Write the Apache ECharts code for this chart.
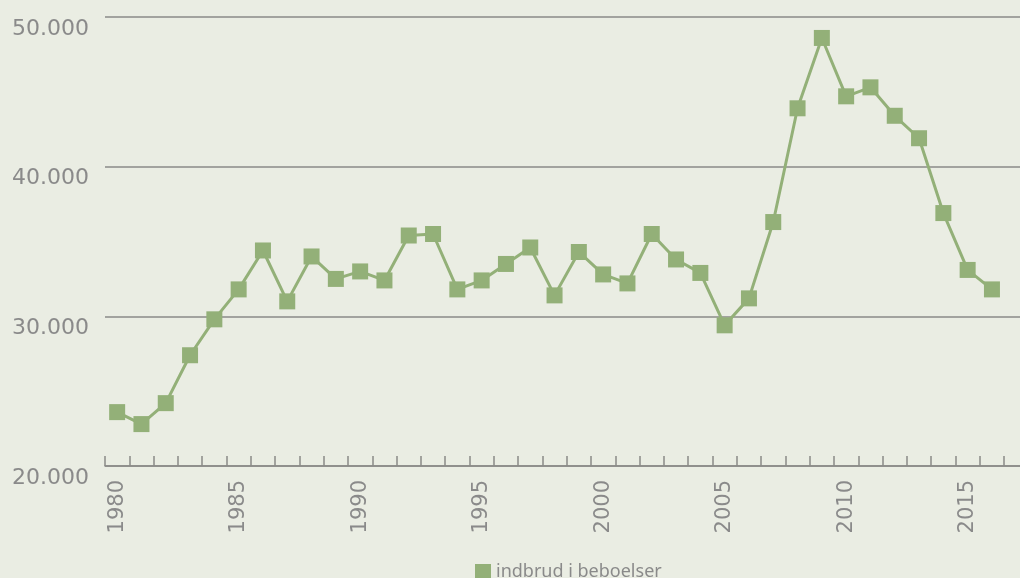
<!DOCTYPE html>
<html>
<head>
<meta charset="utf-8">
<script src="https://cdn.jsdelivr.net/npm/echarts@6/dist/echarts.min.js"></script>
<style>
  html, body { margin: 0; padding: 0; background: #eaede3; }
  #chart { width: 1020px; height: 578px; }
</style>
</head>
<body>
<div id="chart"></div>
<script>
// data
const years = [1980, 1981, 1982, 1983, 1984, 1985, 1986, 1987, 1988, 1989,
  1990, 1991, 1992, 1993, 1994, 1995, 1996, 1997, 1998, 1999,
  2000, 2001, 2002, 2003, 2004, 2005, 2006, 2007, 2008, 2009,
  2010, 2011, 2012, 2013, 2014, 2015, 2016];
const burglaries = [23600, 22800, 24200, 27400, 29800, 31800, 34400, 31000, 34000, 32500,
  33000, 32400, 35400, 35500, 31800, 32400, 33500, 34600, 31400, 34300,
  32800, 32200, 35500, 33800, 32900, 29400, 31200, 36300, 43900, 48600,
  44700, 45300, 43400, 41900, 36900, 33100, 31800];
const yTicks = [20000, 30000, 40000, 50000];
const seriesName = "indbrud i beboelser";

const green = "#93b078";
const grey = "#8a8a88";

const chart = echarts.init(document.getElementById("chart"));

const option = {
  backgroundColor: "#eaede3",
  animation: false,
  grid: { left: 105, right: 0, top: 17, bottom: 112 },
  legend: {
    data: [seriesName],
    left: 470,
    top: 558,
    icon: "rect",
    itemWidth: 16,
    itemHeight: 16,
    itemGap: 5,
    textStyle: { fontFamily: "Noto Sans", fontSize: 18, color: "#8a8a8a" },
  },
  xAxis: {
    type: "value",
    min: years[0] - 0.5,
    max: years[0] - 0.5 + 915 / 24.3,
    axisLine: { show: true, lineStyle: { color: grey, width: 1.5 } },
    axisTick: {
      show: true,
      inside: true,
      length: 10,
      lineStyle: { color: grey, width: 1.5 },
      // ticks sit between the years
      customValues: years.map((y) => y - 0.5).concat([years[years.length - 1] + 0.5]),
    },
    axisLabel: {
      customValues: years.filter((y) => y % 5 === 0),
      rotate: 90,
      margin: 14,
      color: "#8a8a8a",
      fontFamily: "DejaVu Sans",
      fontSize: 21,
      formatter: (v) => String(v),
    },
    splitLine: { show: false },
  },
  yAxis: {
    type: "value",
    min: yTicks[0],
    max: yTicks[yTicks.length - 1],
    interval: 10000,
    axisLine: { show: false },
    axisTick: { show: false },
    axisLabel: {
      align: "left",
      verticalAlign: "top",
      margin: 93,
      padding: [1, 0, 0, 0],
      color: "#8a8a8a",
      fontFamily: "DejaVu Sans",
      fontSize: 22,
      formatter: (v) => v / 1000 + ".000",
    },
    splitLine: { show: true, lineStyle: { color: grey, width: 1.5 } },
  },
  series: [
    {
      name: seriesName,
      type: "line",
      data: years.map((y, i) => [y, burglaries[i]]),
      symbol: "rect",
      symbolSize: 16,
      itemStyle: { color: green },
      lineStyle: { color: green, width: 3 },
    },
  ],
};

chart.setOption(option);
</script>
</body>
</html>
